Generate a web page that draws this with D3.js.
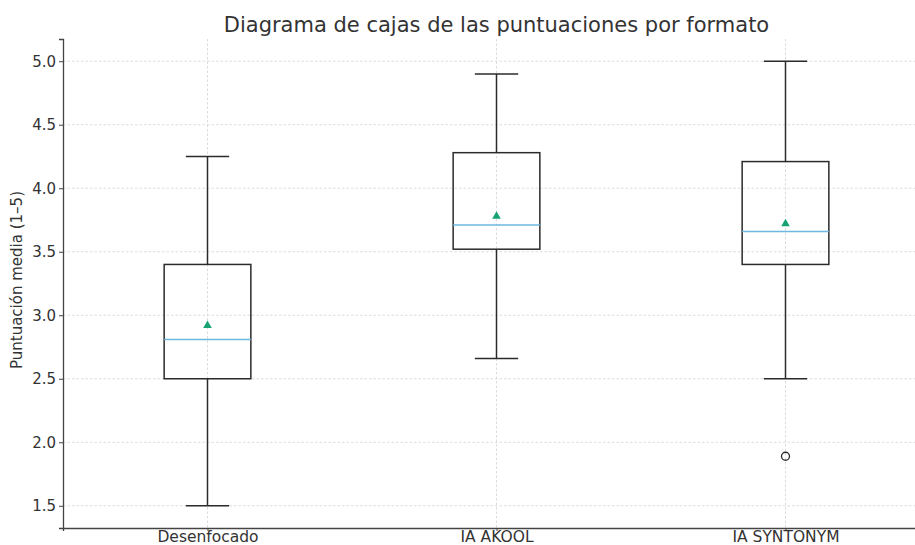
<!DOCTYPE html>
<html>
<head>
<meta charset="utf-8">
<script src="https://cdn.jsdelivr.net/npm/d3@7"></script>
<style>
  body { margin: 0; background: #fff; }
  svg { display: block; font-family: "DejaVu Sans", sans-serif; }
</style>
</head>
<body>
<div id="chart"></div>
<script>
// Data
const categories = ["Desenfocado", "IA AKOOL", "IA SYNTONYM"];
const whiskerLow = [1.5, 2.66, 2.5];
const q1 = [2.5, 3.52, 3.4];
const median = [2.81, 3.71, 3.66];
const q3 = [3.4, 4.28, 4.21];
const whiskerHigh = [4.25, 4.9, 5.0];
const means = [2.92, 3.78, 3.72];
const outliers = [[], [], [1.89]];
const yTicks = [1.5, 2.0, 2.5, 3.0, 3.5, 4.0, 4.5, 5.0];

const width = 915;
const height = 545;
const margin = { top: 39, right: -15, bottom: 17, left: 63 };

const boxes = categories.map((c, i) => ({
    name: c,
    lo: whiskerLow[i],
    q1: q1[i],
    med: median[i],
    q3: q3[i],
    hi: whiskerHigh[i],
    mean: means[i],
    fliers: outliers[i]
}));

const svg = d3.select("#chart")
    .append("svg")
    .attr("width", width)
    .attr("height", height);

svg.append("rect").attr("width", width).attr("height", height).attr("fill", "#fff");

// positions 1..3 like matplotlib, xlim 0.5 - 3.5 (right part is cropped)
const xScale = d3.scaleLinear()
    .domain([0.5, 3.5])
    .range([margin.left, width - margin.right]);

const yScale = d3.scaleLinear()
    .domain([1.325, 5.175])
    .range([height - margin.bottom, margin.top]);

const boxW = xScale(1.3) - xScale(1);
const capW = boxW / 2;

// Grid
const grid = svg.append("g").attr("class", "grid");
grid.selectAll(".hgrid")
    .data(yTicks)
    .enter().append("line")
    .attr("x1", margin.left)
    .attr("x2", width)
    .attr("y1", d => yScale(d))
    .attr("y2", d => yScale(d))
    .attr("stroke", "#d3d3d3")
    .attr("stroke-width", 0.8)
    .attr("stroke-dasharray", "2.5,2");

grid.selectAll(".vgrid")
    .data(boxes)
    .enter().append("line")
    .attr("x1", (d, i) => xScale(i + 1))
    .attr("x2", (d, i) => xScale(i + 1))
    .attr("y1", margin.top)
    .attr("y2", height - margin.bottom)
    .attr("stroke", "#d3d3d3")
    .attr("stroke-width", 0.8)
    .attr("stroke-dasharray", "2.5,2");

// Axes
const yAxis = svg.append("g")
    .attr("transform", `translate(${margin.left},0)`)
    .call(d3.axisLeft(yScale).tickValues(yTicks).tickFormat(d3.format(".1f")).tickSizeOuter(0).tickSize(4).tickPadding(3));

const xAxis = svg.append("g")
    .attr("transform", `translate(0,${height - margin.bottom})`)
    .call(d3.axisBottom(xScale).tickValues([1, 2, 3]).tickFormat(d => categories[d - 1]).tickSizeOuter(0).tickSize(3).tickPadding(0));

[yAxis, xAxis].forEach(ax => {
    ax.select(".domain").attr("stroke", "#444").attr("stroke-width", 1.3);
    ax.selectAll(".tick line").attr("stroke", "#444");
    ax.selectAll(".tick text")
        .attr("fill", "#333")
        .style("font-family", "DejaVu Sans, sans-serif");
});
yAxis.selectAll(".tick text").style("font-size", "15px");
xAxis.selectAll(".tick text").style("font-size", "15.5px");

// Boxes
const g = svg.selectAll(".box")
    .data(boxes)
    .enter().append("g")
    .attr("class", "box");

const stroke = "#2b2b2b";

g.append("line")
    .attr("x1", (d, i) => xScale(i + 1))
    .attr("x2", (d, i) => xScale(i + 1))
    .attr("y1", d => yScale(d.hi))
    .attr("y2", d => yScale(d.q3))
    .attr("stroke", stroke).attr("stroke-width", 1.5);

g.append("line")
    .attr("x1", (d, i) => xScale(i + 1))
    .attr("x2", (d, i) => xScale(i + 1))
    .attr("y1", d => yScale(d.q1))
    .attr("y2", d => yScale(d.lo))
    .attr("stroke", stroke).attr("stroke-width", 1.5);

// caps
["hi", "lo"].forEach(k => {
    g.append("line")
        .attr("x1", (d, i) => xScale(i + 1) - capW / 2)
        .attr("x2", (d, i) => xScale(i + 1) + capW / 2)
        .attr("y1", d => yScale(d[k]))
        .attr("y2", d => yScale(d[k]))
        .attr("stroke", stroke).attr("stroke-width", 1.5);
});

g.append("rect")
    .attr("x", (d, i) => xScale(i + 1) - boxW / 2)
    .attr("y", d => yScale(d.q3))
    .attr("width", boxW)
    .attr("height", d => yScale(d.q1) - yScale(d.q3))
    .attr("fill", "none")
    .attr("stroke", stroke).attr("stroke-width", 1.5);

g.append("line")
    .attr("x1", (d, i) => xScale(i + 1) - boxW / 2)
    .attr("x2", (d, i) => xScale(i + 1) + boxW / 2)
    .attr("y1", d => yScale(d.med))
    .attr("y2", d => yScale(d.med))
    .attr("stroke", "#6bb8e0").attr("stroke-width", 1.5);

// mean markers
g.append("path")
    .attr("d", d3.symbol().type(d3.symbolTriangle).size(32))
    .attr("transform", (d, i) => `translate(${xScale(i + 1)},${yScale(d.mean)})`)
    .attr("fill", "#17a274");

// outliers
g.each(function (d, i) {
    d3.select(this).selectAll(".flier")
        .data(d.fliers)
        .enter().append("circle")
        .attr("cx", xScale(i + 1))
        .attr("cy", v => yScale(v))
        .attr("r", 4)
        .attr("fill", "none")
        .attr("stroke", stroke)
        .attr("stroke-width", 1.3);
});

// Title and label
svg.append("text")
    .attr("x", xScale(2))
    .attr("y", 32)
    .attr("text-anchor", "middle")
    .attr("fill", "#333")
    .style("font-size", "21px")
    .text("Diagrama de cajas de las puntuaciones por formato");

svg.append("text")
    .attr("transform", "rotate(-90)")
    .attr("x", -280)
    .attr("y", 22)
    .attr("text-anchor", "middle")
    .attr("fill", "#333")
    .style("font-size", "15px")
    .text("Puntuación media (1–5)");
</script>
</body>
</html>
